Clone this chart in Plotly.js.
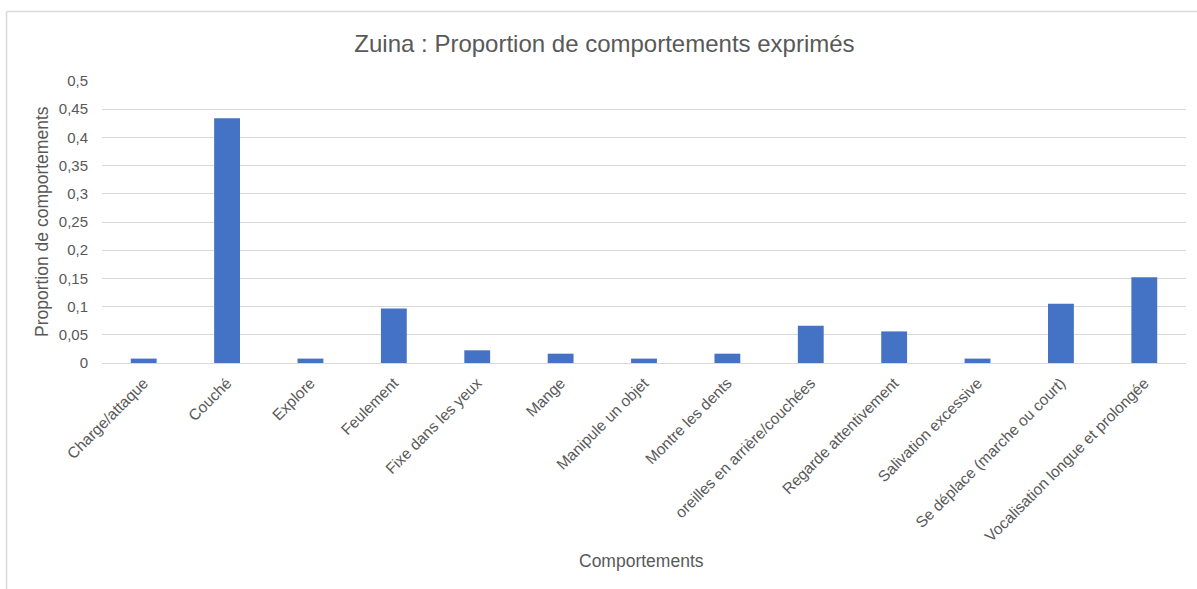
<!DOCTYPE html>
<html>
<head>
<meta charset="utf-8">
<script src="https://cdn.plot.ly/plotly-3.0.1.min.js"></script>
<style>
html,body{margin:0;padding:0;background:#fff;}
#chart{width:1197px;height:589px;}
</style>
</head>
<body>
<div id="chart"></div>
<script>
var categories = [
  "Charge/attaque",
  "Couché",
  "Explore",
  "Feulement",
  "Fixe dans les yeux",
  "Mange",
  "Manipule un objet",
  "Montre les dents",
  "oreilles en arrière/couchées",
  "Regarde attentivement",
  "Salivation excessive",
  "Se déplace (marche ou court)",
  "Vocalisation longue et prolongée"
];
var proportions = [0.0078, 0.434, 0.0078, 0.0965, 0.0225, 0.0165, 0.0078, 0.0165, 0.066, 0.056, 0.0078, 0.105, 0.152];
var yTickVals = [0, 0.05, 0.1, 0.15, 0.2, 0.25, 0.3, 0.35, 0.4, 0.45, 0.5];
var yTickText = ["0", "0,05", "0,1", "0,15", "0,2", "0,25", "0,3", "0,35", "0,4", "0,45", "0,5"];
var chartTitle = "Zuina : Proportion de comportements exprimés";
var xTitle = "Comportements";
var yTitle = "Proportion de comportements";

var textColor = "#595959";
var gridColor = "#d9d9d9";
var fontFamily = "Liberation Sans, Arial, sans-serif";

var trace = {
  type: "bar",
  x: categories,
  y: proportions,
  marker: {color: "#4472C4"},
  hoverinfo: "x+y"
};

var layout = {
  width: 1197,
  height: 589,
  margin: {l: 102, r: 10.5, t: 81, b: 226, pad: 0},
  paper_bgcolor: "#ffffff",
  plot_bgcolor: "#ffffff",
  bargap: 0.69,
  showlegend: false,
  font: {family: fontFamily, color: textColor, size: 14},
  title: {
    text: chartTitle,
    font: {family: fontFamily, size: 24, color: textColor},
    xref: "container", x: 0.505, xanchor: "center",
    yref: "container", y: 1 - 44 / 589, yanchor: "middle"
  },
  xaxis: {
    type: "category",
    tickangle: -45,
    tickfont: {family: fontFamily, size: 15.5, color: textColor},
    showgrid: false,
    showline: true,
    linecolor: gridColor,
    linewidth: 1,
    ticks: "",
    ticklabelstandoff: 4,
    zeroline: false,
    fixedrange: true
  },
  yaxis: {
    range: [0, 0.5],
    tickvals: yTickVals,
    ticktext: yTickText,
    tickfont: {family: fontFamily, size: 15, color: textColor},
    showgrid: true,
    gridcolor: gridColor,
    gridwidth: 1,
    zeroline: false,
    showline: false,
    ticks: "",
    ticklabelstandoff: 13,
    fixedrange: true
  },
  annotations: [
    {
      text: xTitle,
      xref: "paper", yref: "paper",
      x: (642 - 102) / 1084.5, y: (363 - 561) / 282,
      xanchor: "center", yanchor: "middle",
      showarrow: false,
      font: {family: fontFamily, size: 17.5, color: textColor}
    },
    {
      text: yTitle,
      xref: "paper", yref: "paper",
      x: (42 - 102) / 1084.5, y: (363 - 222) / 282,
      xanchor: "center", yanchor: "middle",
      textangle: -90,
      showarrow: false,
      font: {family: fontFamily, size: 17.5, color: textColor}
    }
  ],
  shapes: [
    {
      type: "line", xref: "paper", yref: "paper",
      x0: (6.5 - 102) / 1084.5, x1: (6.5 - 102) / 1084.5,
      y0: (363 - 600) / 282, y1: (363 - 11.5) / 282,
      line: {color: gridColor, width: 1.5}
    },
    {
      type: "line", xref: "paper", yref: "paper",
      x0: (6.5 - 102) / 1084.5, x1: (1210 - 102) / 1084.5,
      y0: (363 - 11.5) / 282, y1: (363 - 11.5) / 282,
      line: {color: gridColor, width: 1.5}
    }
  ]
};

Plotly.newPlot("chart", [trace], layout, {displayModeBar: false, staticPlot: true});
</script>
</body>
</html>
